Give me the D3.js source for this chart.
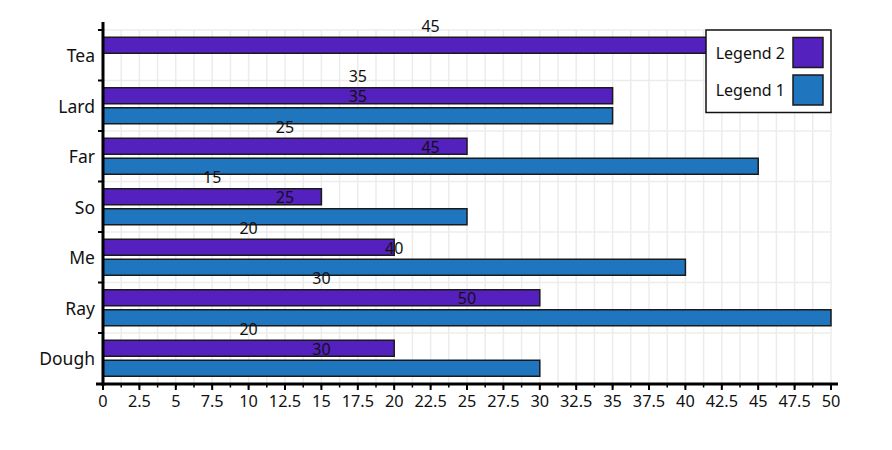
<!DOCTYPE html>
<html><head><meta charset="utf-8">
<script src="https://cdn.jsdelivr.net/npm/d3@7"></script>
<style>body{margin:0;background:#fff}svg{display:block}text{font-family:"Noto Sans",sans-serif;fill:#111}</style>
</head><body><svg id="c" width="892" height="450"></svg>
<script>
const categories = ["Tea","Lard","Far","So","Me","Ray","Dough"];
const seriesNames = ["Legend 2","Legend 1"];
const legend2 = [45,35,25,15,20,30,20];
const legend1 = [null,35,45,25,40,50,30];
const colors = ["#5420be","#1f76bf"];
const xTicks = d3.range(0, 50.01, 2.5);
const xMinor = d3.range(0, 50.01, 1.25);

const svg = d3.select("#c");
const x = d3.scaleLinear().domain([0,50]).range([103,831]);
const y0 = d3.scaleBand().domain(categories).range([30,383.5]).padding(0);
const y1 = d3.scaleBand().domain(seriesNames).range([0,y0.bandwidth()]).paddingInner(0.2).paddingOuter(0.3625);
const series = [legend2, legend1];

// grid
const g = svg.append("g");
g.selectAll(".vg").data(xMinor).join("line")
  .attr("x1",d=>x(d)).attr("x2",d=>x(d)).attr("y1",30).attr("y2",383.5)
  .attr("stroke","#ececec").attr("stroke-width",1.5);
g.selectAll(".hg").data(categories).join("line")
  .attr("x1",103).attr("x2",831).attr("y1",d=>y0(d)).attr("y2",d=>y0(d))
  .attr("stroke","#ececec").attr("stroke-width",1.5);

// bars
const rows = [];
categories.forEach((c,i)=>series.forEach((s,j)=>{ if(s[i]!=null) rows.push({c, s:seriesNames[j], v:s[i], j}); }));
svg.append("g").selectAll("rect").data(rows).join("rect")
  .attr("x",x(0)).attr("y",d=>y0(d.c)+y1(d.s))
  .attr("width",d=>x(d.v)-x(0)).attr("height",y1.bandwidth())
  .attr("fill",d=>colors[d.j]).attr("stroke","#1a1a1a").attr("stroke-width",1.5);

// value labels
svg.append("g").selectAll("text").data(rows).join("text")
  .attr("x",d=>x(d.v/2)).attr("y",d=>y0(d.c)+y1(d.s)-11.3)
  .attr("text-anchor","middle").attr("dominant-baseline","central")
  .attr("font-size",16).text(d=>d.v);

// x axis
const xa = svg.append("g").attr("transform","translate(0,384)");
xa.append("line").attr("x1",96).attr("x2",838).attr("stroke","#000").attr("stroke-width",3);
xa.selectAll(".mi").data(xMinor).join("line")
  .attr("x1",d=>x(d)).attr("x2",d=>x(d)).attr("y1",0).attr("y2",3.5)
  .attr("stroke","#000").attr("stroke-width",1.5);
xa.selectAll(".ma").data(xTicks).join("line")
  .attr("x1",d=>x(d)).attr("x2",d=>x(d)).attr("y1",0).attr("y2",6)
  .attr("stroke","#000").attr("stroke-width",2);
xa.selectAll("text").data(xTicks).join("text")
  .attr("x",d=>x(d)).attr("y",17).attr("text-anchor","middle").attr("dominant-baseline","central")
  .attr("font-size",16.3).text(d=>d3.format("~g")(d));

// y axis
const ya = svg.append("g");
ya.append("line").attr("x1",103).attr("x2",103).attr("y1",22).attr("y2",386).attr("stroke","#000").attr("stroke-width",3);
ya.selectAll(".yt").data(categories).join("line")
  .attr("x1",98).attr("x2",103).attr("y1",d=>y0(d)).attr("y2",d=>y0(d))
  .attr("stroke","#000").attr("stroke-width",2);
ya.selectAll("text").data(categories).join("text")
  .attr("x",95).attr("y",d=>y0(d)+y0.bandwidth()/2).attr("text-anchor","end").attr("dominant-baseline","central")
  .attr("font-size",17.5).text(d=>d);

// legend
const lg = svg.append("g");
lg.append("rect").attr("x",706).attr("y",30).attr("width",125).attr("height",82.5)
  .attr("fill","#fff").attr("stroke","#111").attr("stroke-width",1.5);
seriesNames.forEach((n,i)=>{
  const yy = 37.5 + i*37.5;
  lg.append("rect").attr("x",793).attr("y",yy).attr("width",30).attr("height",30)
    .attr("fill",colors[i]).attr("stroke","#1a1a1a").attr("stroke-width",1.5);
  lg.append("text").attr("x",785).attr("y",yy+15).attr("text-anchor","end").attr("dominant-baseline","central")
    .attr("font-size",16).text(n);
});
</script></body></html>
